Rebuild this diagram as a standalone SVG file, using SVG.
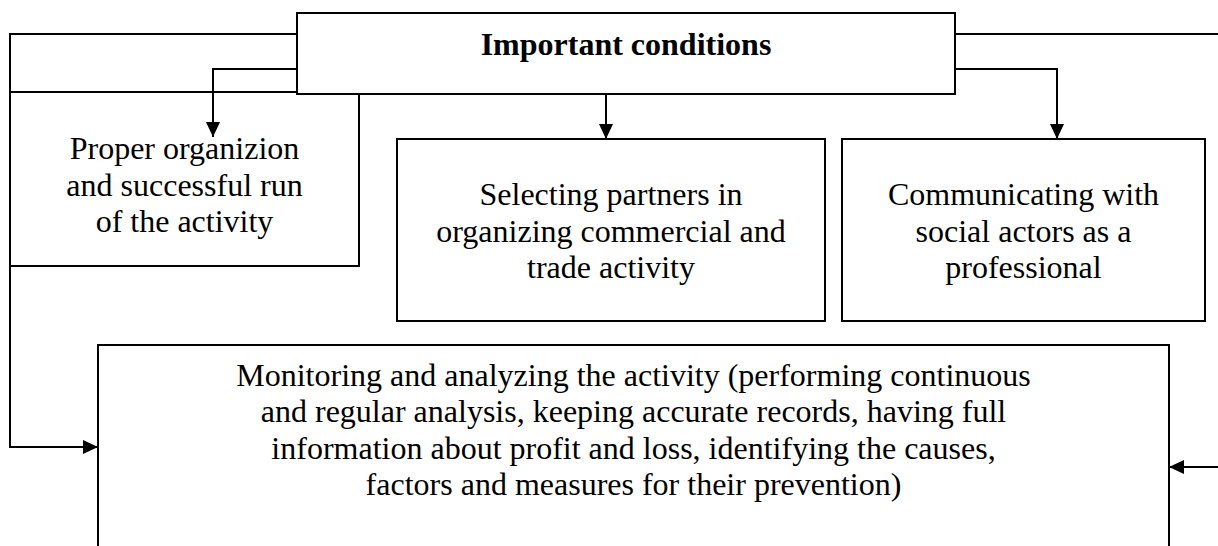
<svg xmlns="http://www.w3.org/2000/svg" width="1218" height="546" viewBox="0 0 1218 546">
<style>
.box{fill:#fff;stroke:#000;stroke-width:2}
.ln{fill:none;stroke:#000;stroke-width:2}
.t{font-family:"Liberation Serif","Times New Roman",serif;font-size:32px;fill:#000;text-anchor:middle}
.b{font-weight:bold}
</style>
<defs>
<marker id="arr" markerWidth="16" markerHeight="16" refX="15" refY="7" orient="auto" markerUnits="userSpaceOnUse">
<path d="M0,0 L15,7 L0,14 z" fill="#000"/>
</marker>
</defs>
<rect width="1218" height="546" fill="#fff"/>
<g id="node-proper">
<rect class="box" x="10" y="92" width="349" height="174"/>
<text class="t" x="184.5" y="159">Proper organizion</text>
<text class="t" x="184.5" y="196">and successful run</text>
<text class="t" x="184.5" y="232">of the activity</text>
</g>
<g id="node-important">
<rect class="box" x="297" y="13" width="658" height="81"/>
<text class="t b" x="626" y="55">Important conditions</text>
</g>
<g id="node-selecting">
<rect class="box" x="397" y="139" width="428" height="182"/>
<text class="t" x="611" y="205">Selecting partners in</text>
<text class="t" x="611" y="242">organizing commercial and</text>
<text class="t" x="611" y="278">trade activity</text>
</g>
<g id="node-communicating">
<rect class="box" x="842" y="139" width="363" height="182"/>
<text class="t" x="1023.5" y="205">Communicating with</text>
<text class="t" x="1023.5" y="242">social actors as a</text>
<text class="t" x="1023.5" y="278">professional</text>
</g>
<g id="node-monitoring">
<rect class="box" x="98" y="345" width="1071" height="220"/>
<text class="t" x="633.5" y="386">Monitoring and analyzing the activity (performing continuous</text>
<text class="t" x="633.5" y="422">and regular analysis, keeping accurate records, having full</text>
<text class="t" x="633.5" y="459">information about profit and loss, identifying the causes,</text>
<text class="t" x="633.5" y="495">factors and measures for their prevention)</text>
</g>
<g id="connectors">
<path class="ln" d="M297,34 H10 V447 H98" marker-end="url(#arr)"/>
<path class="ln" d="M297,69 H213 V137" marker-end="url(#arr)"/>
<path class="ln" d="M606,94 V139" marker-end="url(#arr)"/>
<path class="ln" d="M955,69 H1057 V139" marker-end="url(#arr)"/>
<path class="ln" d="M955,34 H1218"/>
<path class="ln" d="M1218,467 H1169" marker-end="url(#arr)"/>
</g>
</svg>
